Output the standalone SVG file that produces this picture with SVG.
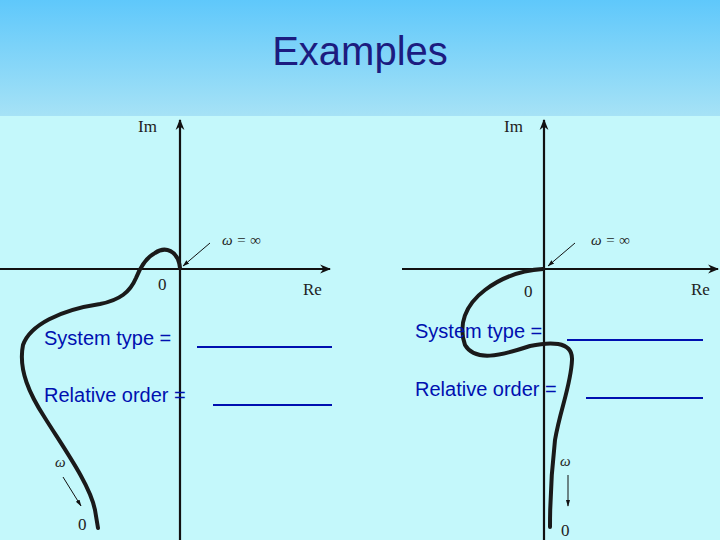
<svg xmlns="http://www.w3.org/2000/svg" width="720" height="540" viewBox="0 0 720 540">
<defs>
<linearGradient id="hg" x1="0" y1="0" x2="0" y2="1"><stop offset="0" stop-color="#5fc8fb"/><stop offset="1" stop-color="#a6e2f6"/></linearGradient>
<marker id="big" viewBox="0 0 10 10" refX="9" refY="5" markerWidth="5" markerHeight="5" orient="auto"><path d="M0,1 L10,5 L0,9 L3,5 Z" fill="#111"/></marker>
<marker id="sm" viewBox="0 0 10 10" refX="9" refY="5" markerWidth="7" markerHeight="7" orient="auto"><path d="M0,2 L10,5 L0,8 Z" fill="#111"/></marker>
</defs>
<style>
.ax{stroke:#111;stroke-width:2.2;fill:none}
.cv{stroke:#1a1a1a;stroke-width:4;fill:none;stroke-linecap:round}
.ar{stroke:#111;stroke-width:1;fill:none}
.lb{font-family:"Liberation Serif",serif;font-size:17px;fill:#222}
.gr{font-family:"Liberation Serif",serif;font-size:15px;font-style:italic;fill:#222}
.q{font-family:"Liberation Sans",Arial,sans-serif;font-size:20px;fill:#0010b0}
.ul{stroke:#0010b0;stroke-width:2}
</style>
<rect width="720" height="540" fill="#c4f8fb"/>
<rect width="720" height="116" fill="url(#hg)"/>
<text x="360" y="65" text-anchor="middle" font-family="Liberation Sans,Arial,sans-serif" font-size="40" fill="#1c1c80">Examples</text>
<g id="plot-left">
<line class="ax" x1="180" y1="540" x2="180" y2="120" marker-end="url(#big)"/>
<line class="ax" x1="0" y1="269" x2="330" y2="269" marker-end="url(#big)"/>
<text class="lb" x="138" y="132">Im</text>
<text class="lb" x="303" y="295">Re</text>
<text class="lb" x="158" y="290">0</text>
<text class="gr" x="222" y="245">ω = ∞</text>
<line class="ar" x1="210" y1="243" x2="183" y2="266" marker-end="url(#sm)"/>
<path class="cv" d="M180,268 C178,250 165,246 155,253 C145,258 140,268 136,278 C130,292 120,300 100,304 C60,310 30,325 23,345 C18,370 30,395 45,418 C65,450 90,485 95,510 L98,528"/>
<text class="gr" x="55" y="467">ω</text>
<line class="ar" x1="63" y1="477" x2="81" y2="506" marker-end="url(#sm)"/>
<text class="lb" x="78" y="530">0</text>
</g>
<g id="plot-right">
<line class="ax" x1="544" y1="540" x2="544" y2="120" marker-end="url(#big)"/>
<line class="ax" x1="402" y1="269" x2="718" y2="269" marker-end="url(#big)"/>
<text class="lb" x="504" y="132">Im</text>
<text class="lb" x="691" y="295">Re</text>
<text class="lb" x="524" y="297">0</text>
<text class="gr" x="591" y="245">ω = ∞</text>
<line class="ar" x1="575" y1="243" x2="548" y2="266" marker-end="url(#sm)"/>
<path class="cv" d="M543,269 C525,270 505,275 485,290 C465,305 458,325 465,345 C475,362 500,356 530,346 C548,342 573,340 572,360 C571,385 560,410 555,440 C551,475 550,500 550,527"/>
<text class="gr" x="560" y="466">ω</text>
<line class="ar" x1="568" y1="475" x2="568" y2="506" marker-end="url(#sm)"/>
<text class="lb" x="561" y="536">0</text>
</g>
<g id="questions">
<text class="q" x="44" y="345">System type =</text>
<line class="ul" x1="197" y1="347" x2="332" y2="347"/>
<text class="q" x="44" y="402">Relative order =</text>
<line class="ul" x1="213" y1="405" x2="332" y2="405"/>
<text class="q" x="415" y="338">System type =</text>
<line class="ul" x1="567" y1="340" x2="703" y2="340"/>
<text class="q" x="415" y="396">Relative order =</text>
<line class="ul" x1="586" y1="398" x2="703" y2="398"/>
</g>
</svg>
